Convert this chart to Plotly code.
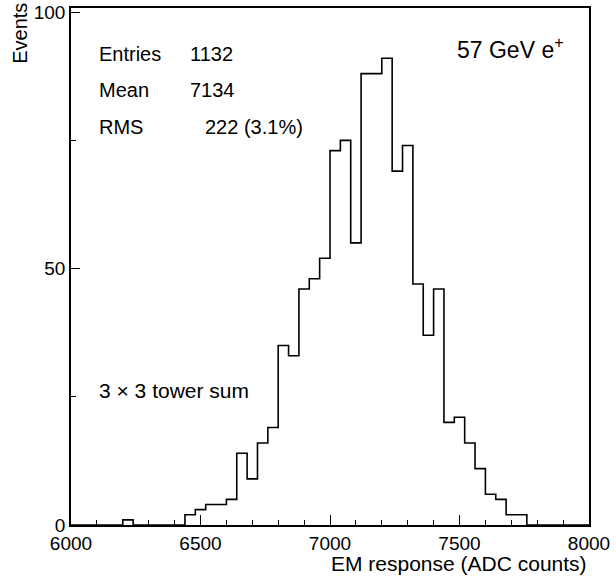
import plotly.graph_objects as go

# Histogram: 50 bins of 40 ADC counts from 6000 to 8000
x_min = 6000
x_max = 8000
bin_width = 40
counts = [0, 0, 0, 0, 0, 1, 0, 0, 0, 0,
          0, 2, 3, 4, 4, 5, 14, 9, 16, 19,
          35, 33, 46, 48, 52, 73, 75, 55, 88, 88,
          91, 69, 74, 47, 37, 46, 20, 21, 16, 11,
          6, 5, 2, 2, 0, 0, 0, 0, 0, 0]

stats_labels = ["Entries", "Mean", "RMS"]
stats_values = ["1132", "7134", "222 (3.1%)"]
beam_label = "57 GeV e<sup>+</sup>"
tower_label = "3 \u00d7 3 tower sum"
x_title = "EM response (ADC counts)"
y_title = "Events"

edges = [x_min + i * bin_width for i in range(len(counts) + 1)]
ys = counts + [counts[-1]]

FONT = "Liberation Sans, Arial, sans-serif"

fig = go.Figure()
fig.add_trace(go.Scatter(x=edges, y=ys, mode="lines", line_shape="hv",
                         line=dict(color="black", width=1.6),
                         hoverinfo="skip", showlegend=False))

axis_common = dict(showline=True, linecolor="black", linewidth=1.6, mirror=True,
                   showgrid=False, zeroline=False, ticks="inside",
                   tickcolor="black", tickwidth=1.3, automargin=False,
                   tickfont=dict(family=FONT, size=19, color="black"))

fig.update_xaxes(range=[x_min, x_max], tick0=6000, dtick=500, ticklen=10,
                 minor=dict(dtick=100, ticklen=5, ticks="inside",
                            tickcolor="black", tickwidth=1.3),
                 **axis_common)
fig.update_yaxes(range=[0, 100.8], tick0=0, dtick=50, ticklen=9,
                 minor=dict(dtick=25, ticklen=5, ticks="inside",
                            tickcolor="black", tickwidth=1.3),
                 **axis_common)

ann = []
ys_stats = [0.911, 0.841, 0.770]
for lab, val, yy in zip(stats_labels, stats_values, ys_stats):
    ann.append(dict(text=lab, x=0.050, y=yy, xref="paper", yref="paper",
                    xanchor="left", yanchor="middle", showarrow=False,
                    font=dict(family=FONT, size=20, color="black")))
    ann.append(dict(text=val, x=0.226 if lab != "RMS" else 0.255, y=yy,
                    xref="paper", yref="paper",
                    xanchor="left", yanchor="middle", showarrow=False,
                    font=dict(family=FONT, size=20, color="black")))
ann.append(dict(text=beam_label, x=0.956, y=0.923, xref="paper", yref="paper",
                xanchor="right", yanchor="middle", showarrow=False,
                font=dict(family=FONT, size=23, color="black")))
ann.append(dict(text=tower_label, x=0.050, y=0.261, xref="paper", yref="paper",
                xanchor="left", yanchor="middle", showarrow=False,
                font=dict(family=FONT, size=21, color="black")))
ann.append(dict(text=x_title, x=1.0, y=-0.0745, xref="paper", yref="paper",
                xanchor="right", yanchor="middle", showarrow=False,
                font=dict(family=FONT, size=21, color="black")))
ann.append(dict(text=y_title, x=-0.0985, y=0.952, xref="paper", yref="paper",
                xanchor="center", yanchor="middle", textangle=-90, showarrow=False,
                font=dict(family=FONT, size=20, color="black")))

fig.update_layout(width=616, height=579, template="none",
                  margin=dict(l=71, r=27, t=8, b=54, pad=0),
                  paper_bgcolor="white", plot_bgcolor="white",
                  annotations=ann, showlegend=False)

fig.write_html("out.html")
